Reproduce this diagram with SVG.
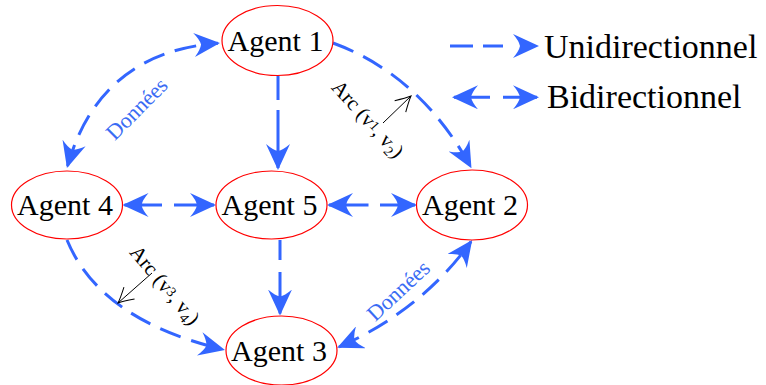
<svg xmlns="http://www.w3.org/2000/svg" width="766" height="385" viewBox="0 0 766 385">
  <style>
    .node ellipse { fill: #ffffff; stroke: #ff0000; stroke-width: 1.2; }
    .node text { font-family: "Liberation Serif", "Times New Roman", serif; font-size: 30px; fill: #000; text-anchor: middle; }
    .edge { fill: none; stroke: #3366ff; stroke-width: 3; stroke-dasharray: 22 11; }
    .uni { marker-end: url(#head); }
    .bi { marker-start: url(#head); marker-end: url(#head); }
    .data { font-family: "Liberation Serif", "Times New Roman", serif; font-size: 22px; fill: #3a6cf4; text-anchor: middle; }
    .arc { font-family: "Liberation Serif", "Times New Roman", serif; font-size: 21px; fill: #000; text-anchor: middle; }
    .arc tspan { font-size: 14px; }
    .ptr { fill: none; stroke: #000; stroke-width: 1; marker-end: url(#open); }
    .legend text { font-family: "Liberation Serif", "Times New Roman", serif; font-size: 34px; fill: #000; }
  </style>
  <defs>
    <marker id="head" markerUnits="userSpaceOnUse" viewBox="0 0 26 24" refX="24" refY="12" markerWidth="26" markerHeight="24" orient="auto-start-reverse">
      <path d="M26,12 L0,0 Q6,7 7,12 Q6,17 0,24 Z" fill="#3366ff"/>
    </marker>
    <marker id="open" markerUnits="userSpaceOnUse" viewBox="-16 -9 17 18" refX="0" refY="0" markerWidth="17" markerHeight="18" orient="auto" overflow="visible">
      <path d="M-15,-8 Q-5,-2 0,0 Q-5,2 -15,8" fill="none" stroke="#000" stroke-width="1"/>
    </marker>
  </defs>

  <g id="connectors">
    <path class="edge uni" d="M278,76 V168" style="stroke-dasharray:24 10 100"/>
    <path class="edge uni" d="M333,43 Q420,75 470.5,166.5"/>
    <path class="edge bi" d="M67.5,166 Q100,52 218,43.2"/>
    <path class="edge bi" d="M124.5,205 H214" style="stroke-dasharray:37.5 12 100"/>
    <path class="edge bi" d="M329,205 H415" style="stroke-dasharray:39.5 11.5 100"/>
    <path class="edge uni" d="M280,240 V313.5" style="stroke-dasharray:20 12 100"/>
    <path class="edge uni" d="M67,240 Q100,320 223,349.5"/>
    <path class="edge bi" d="M339,347 Q422,310 471,241.6"/>
  </g>

  <g id="labels">
    <text class="data" transform="translate(137,109) rotate(-45)" x="0" y="7">Données</text>
    <text class="data" transform="translate(398.5,291) rotate(-43)" x="0" y="7">Données</text>
    <text class="arc" transform="translate(368,119) rotate(48)" x="0" y="7">Arc (v<tspan baseline-shift="20%">1</tspan>, v<tspan baseline-shift="-25%">2</tspan>)</text>
    <text class="arc" transform="translate(165,285) rotate(50)" x="0" y="7">Arc (v<tspan baseline-shift="20%">3</tspan>, v<tspan baseline-shift="-25%">4</tspan>)</text>
    <path class="ptr" d="M383,123 L411,96"/>
    <path class="ptr" d="M152,273 L118,303"/>
  </g>

  <g id="agent1" class="node">
    <ellipse cx="277.5" cy="40.5" rx="55.5" ry="35"/>
    <text x="275.5" y="50.5">Agent 1</text>
  </g>
  <g id="agent4" class="node">
    <ellipse cx="67" cy="205" rx="55.5" ry="34"/>
    <text x="65" y="215">Agent 4</text>
  </g>
  <g id="agent5" class="node">
    <ellipse cx="271.5" cy="205" rx="55.5" ry="34"/>
    <text x="269.5" y="215">Agent 5</text>
  </g>
  <g id="agent2" class="node">
    <ellipse cx="472" cy="205" rx="55.5" ry="35"/>
    <text x="470" y="215">Agent 2</text>
  </g>
  <g id="agent3" class="node">
    <ellipse cx="281.5" cy="350.5" rx="55.5" ry="34.5"/>
    <text x="279" y="360.5">Agent 3</text>
  </g>

  <g id="legend" class="legend">
    <path class="edge uni" d="M450,46 H537" style="stroke-dasharray:23 10 20 100"/>
    <text x="544" y="58">Unidirectionnel</text>
    <path class="edge bi" d="M454,97.3 H537" style="stroke-dasharray:36 13 100"/>
    <text x="547" y="108.3">Bidirectionnel</text>
  </g>
</svg>
